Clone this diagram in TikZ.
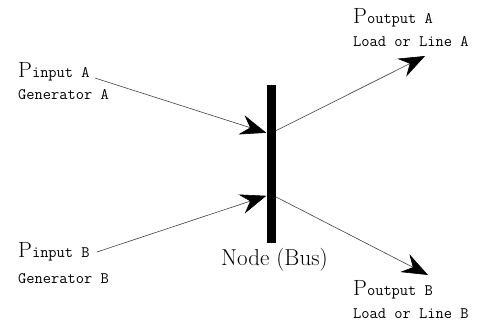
\documentclass[tikz,border=0pt]{standalone}
\usepackage{tikz}
\usetikzlibrary{arrows.meta}
\usetikzlibrary{positioning}

\newcommand{\bigfont}{\fontsize{22}{24}\selectfont}
\newcommand{\monofont}{\ttfamily\fontsize{16}{18}\selectfont}
\newcommand{\pw}[1]{{\bigfont P}{\monofont #1}}

\begin{document}
\begin{tikzpicture}[x=1pt,y=-1pt,
  lab/.style={inner sep=0pt,anchor=base west},
  flow/.style={line width=0.6pt,black!75,-{Stealth[length=26pt,width=20pt,inset=9pt,black]}}]
\useasboundingbox (0,0) rectangle (478,322);
% bus bar
\node [fill=black,inner sep=0pt,minimum width=9pt,minimum height=158pt] (bus) at (271,164) {};
\node [lab] (busname) at (221,265) {\fontsize{23}{24}\selectfont Node (Bus)};
% inputs
\node [lab] (pinA) at (18,77) {\pw{input A}};
\node [lab] (genA) at (18,99) {\monofont Generator A};
\node [lab] (pinB) at (18,257) {\pw{input B}};
\node [lab] (genB) at (18,283) {\monofont Generator B};
% outputs
\node [lab] (poutA) at (353,23) {\pw{output A}};
\node [lab] (loadA) at (353,46) {\monofont Load or Line A};
\node [lab] (poutB) at (353,295) {\pw{output B}};
\node [lab] (loadB) at (353,318) {\monofont Load or Line B};
\coordinate (tipA) at (425,56);
\coordinate (tipB) at (428,275);
% flows
\draw [flow] ([xshift=5pt,yshift=-1pt]pinA.base east) -- ([yshift=-48pt]bus.north west);
\draw [flow] ([xshift=7pt,yshift=5pt]pinB.base east) -- ([yshift=-111pt]bus.north west);
\draw [flow] ([yshift=-46pt]bus.north east) -- (tipA);
\draw [flow] ([yshift=-112pt]bus.north east) -- (tipB);
\end{tikzpicture}
\end{document}
